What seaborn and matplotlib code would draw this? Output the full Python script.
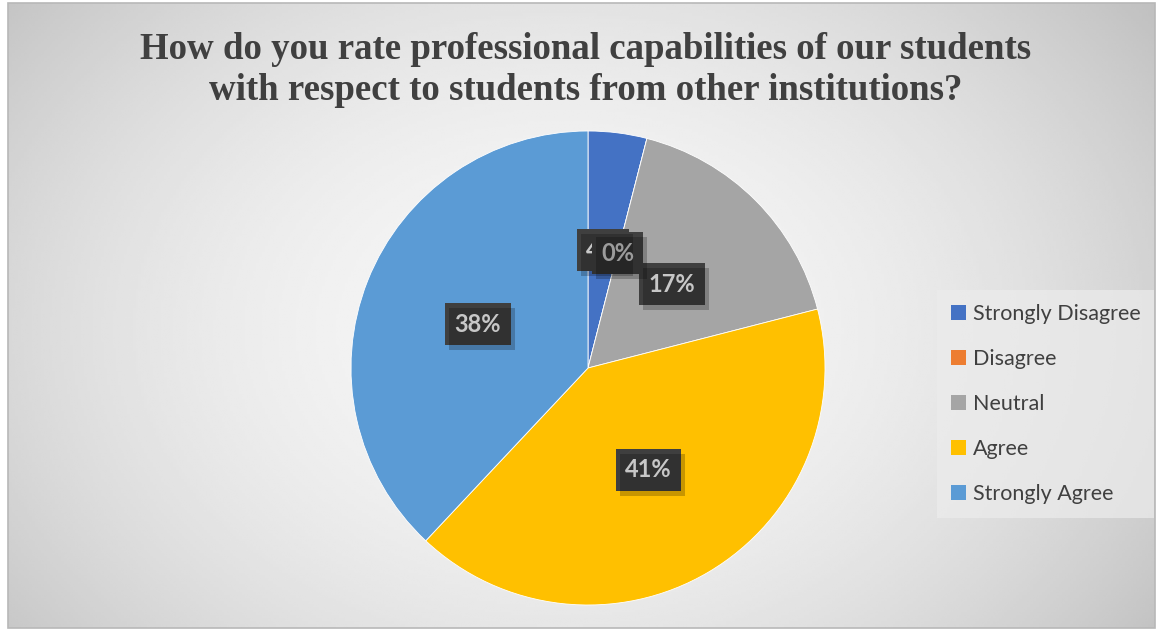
import numpy as np
import matplotlib
matplotlib.use("Agg")
import matplotlib.pyplot as plt
from matplotlib.patches import Rectangle
import seaborn as sns

# Share of answers (percent) per response option
categories = ["Strongly Disagree", "Disagree", "Neutral", "Agree", "Strongly Agree"]
shares = [4, 0, 17, 41, 38]
colors = ["#4472C4", "#ED7D31", "#A5A5A5", "#FFC000", "#5B9BD5"]
title = ("How do you rate professional capabilities of our students\n"
         "with respect to students from other institutions?")

sns.set_theme(style="white")
plt.rcParams["font.family"] = ["Lato", "DejaVu Sans"]

W, H = 1160, 631
fig = plt.figure(figsize=(W / 100, H / 100), dpi=100)
fig.patch.set_facecolor("white")

# Gradient chart-area background
bg = fig.add_axes([0, 0, 1, 1], zorder=0)
bg.set_xlim(0, W)
bg.set_ylim(H, 0)
bg.axis("off")
x0, x1, y0, y1 = 8, 1155, 3, 628
xx, yy = np.meshgrid(np.linspace(x0, x1, 400), np.linspace(y0, y1, 220))
d = np.sqrt(((xx - 560) / 700) ** 2 + ((yy - 330) / 520) ** 2)
shade = 0.965 - 0.19 * np.clip(d, 0, 1.2) ** 2
bg.imshow(shade, cmap="gray", vmin=0, vmax=1, extent=[x0, x1, y1, y0],
          aspect="auto", interpolation="bilinear")
bg.add_patch(Rectangle((x0, y0), x1 - x0, y1 - y0, fill=False,
                       edgecolor="#b8b8b8", linewidth=1.2))

fig.text(586 / W, 1 - 70 / H, title, ha="center", va="center",
         family="Liberation Serif", fontweight="bold", fontsize=26.6,
         color="#404040", linespacing=1.2)

# Pie
cx, cy, r = 588, 368, 237
ax = fig.add_axes([(cx - r) / W, (H - cy - r) / H, 2 * r / W, 2 * r / H], zorder=2)
ax.set_facecolor("none")
wedges, texts, autotexts = ax.pie(
    shares, colors=colors, startangle=90, counterclock=False,
    autopct=lambda p: f"{p:.0f}%", pctdistance=0.5, radius=1,
    wedgeprops=dict(linewidth=0.6, edgecolor="white"),
    textprops=dict(color="white", fontsize=17, fontweight="bold", family="Lato"))
ax.set_xlim(-1, 1)
ax.set_ylim(-1, 1)
ax.set_aspect("equal")
ax.axis("off")

for i, t in enumerate(autotexts):
    t.set_bbox(dict(boxstyle="square,pad=0.4", facecolor="#3f3f3f",
                    edgecolor="none"))
    t.set_zorder(4 + 2 * i)

# Drop shadows behind the label boxes
fig.canvas.draw()
for i, t in enumerate(autotexts):
    ext = t.get_bbox_patch().get_window_extent()
    fig.add_artist(Rectangle((ext.x0 + 4, ext.y0 - 5), ext.width, ext.height,
                             transform=None, facecolor="black", alpha=0.22,
                             edgecolor="none", zorder=3))

# Legend
handles = [Rectangle((0, 0), 1, 1, facecolor=c, edgecolor="none") for c in colors]
leg = fig.legend(handles, categories, loc="center left",
                 bbox_to_anchor=(937 / W, 1 - 404 / H), frameon=True,
                 fontsize=15.5, handlelength=0.7, handleheight=0.7,
                 handletextpad=0.3, labelspacing=1.16, borderpad=0.65,
                 borderaxespad=0)
for txt in leg.get_texts():
    txt.set_color("#404040")
frame = leg.get_frame()
frame.set_facecolor("#ececec")
frame.set_alpha(0.7)
frame.set_edgecolor("none")
frame.set_boxstyle("square", pad=0)

fig.savefig("out.png", dpi=100)
